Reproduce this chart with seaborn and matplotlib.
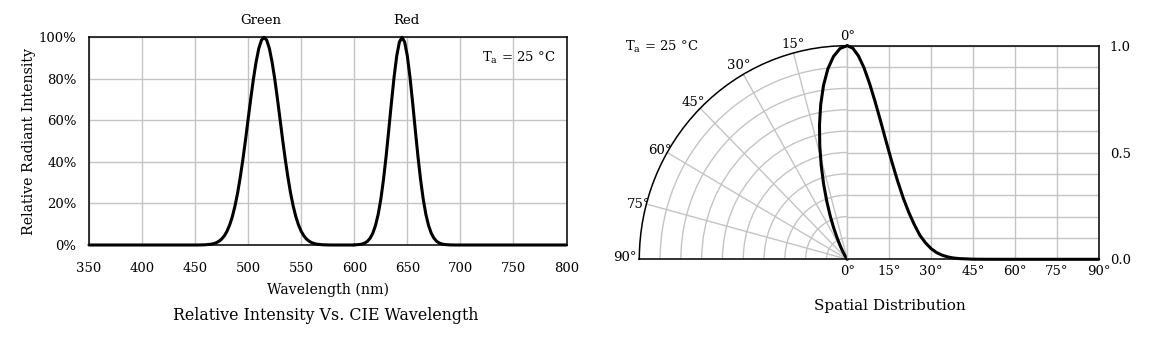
import numpy as np
import pandas as pd
import matplotlib
matplotlib.use("Agg")
import matplotlib.pyplot as plt
import seaborn as sns

# ---------------- data ----------------
green_nm = [350, 450, 455, 460, 465, 467.5, 470, 472.5, 475, 477.5, 480, 482.5, 485,
            487.5, 490, 492.5, 495, 497.5, 500, 502.5, 505, 507.5, 510, 512.5, 515,
            517.5, 520, 522.5, 525, 527.5, 530, 532.5, 535, 537.5, 540, 542.5, 545,
            547.5, 550, 552.5, 555, 557.5, 560, 562.5, 565, 570, 575, 580, 600]
green_rel = [0, 0, 0.0003, 0.0012, 0.0039, 0.0066, 0.0111, 0.0181, 0.0286, 0.0439,
             0.0657, 0.0956, 0.135, 0.186, 0.249, 0.325, 0.411, 0.506, 0.607, 0.707,
             0.801, 0.882, 0.946, 0.986, 1.000, 0.986, 0.946, 0.882, 0.801, 0.707,
             0.607, 0.506, 0.411, 0.325, 0.249, 0.186, 0.135, 0.0956, 0.0657, 0.0439,
             0.0286, 0.0181, 0.0111, 0.0066, 0.0039, 0.0012, 0.0003, 0, 0]
red_nm = [600, 605, 607.5, 610, 612.5, 615, 617.5, 620, 622.5, 625, 627.5, 630, 632.5,
          635, 637.5, 640, 642.5, 645, 647.5, 650, 652.5, 655, 657.5, 660, 662.5, 665,
          667.5, 670, 672.5, 675, 677.5, 680, 682.5, 685, 690, 695, 800]
red_rel = [0.0005, 0.0024, 0.0049, 0.0097, 0.0184, 0.0333, 0.0573, 0.0941, 0.147, 0.220,
           0.314, 0.427, 0.554, 0.685, 0.808, 0.910, 0.977, 1.000, 0.977, 0.910, 0.808,
           0.685, 0.554, 0.427, 0.314, 0.220, 0.147, 0.0941, 0.0573, 0.0333, 0.0184,
           0.0097, 0.0049, 0.0024, 0.0005, 0, 0]

pct_ticks = [0, 0.2, 0.4, 0.6, 0.8, 1.0]
pct_labels = ["0%", "20%", "40%", "60%", "80%", "100%"]
wl_ticks = [350, 400, 450, 500, 550, 600, 650, 700, 750, 800]

angle_deg = [0, 2, 4, 6, 8, 10, 12, 14, 16, 18, 20, 22, 24, 26, 28, 30, 32, 34, 36,
             38, 40, 45, 50, 60, 75, 90]
angle_rel = [1.0, 0.988, 0.952, 0.896, 0.822, 0.736, 0.643, 0.547, 0.454, 0.367, 0.288,
             0.220, 0.162, 0.112, 0.077, 0.050, 0.031, 0.019, 0.011, 0.0062, 0.0033,
             0.0006, 0.0001, 0, 0, 0]
angle_ticks = [0, 15, 30, 45, 60, 75, 90]
angle_labels = ["0°", "15°", "30°", "45°", "60°", "75°", "90°"]
rel_ticks = [0, 0.1, 0.2, 0.3, 0.4, 0.5, 0.6, 0.7, 0.8, 0.9, 1.0]
rel_labels = ["0.0", "", "", "", "", "0.5", "", "", "", "", "1.0"]

# ---------------- style ----------------
sns.set_theme(style="white")
plt.rcParams["font.family"] = ["DejaVu Serif"]
plt.rcParams["mathtext.fontset"] = "dejavuserif"
for k in ["text.color", "axes.labelcolor", "xtick.color", "ytick.color"]:
    plt.rcParams[k] = "black"
FS = 9.5
FS_LAB = 10.2
FS_TITLE = 11.4
GRID = "#c4c4c4"
LW = 2.2

W, H = 1157, 341
fig = plt.figure(figsize=(W / 100, H / 100), dpi=100)
fig.patch.set_facecolor("white")


def frac(x0, y_top, x1, y_bot):
    return [x0 / W, 1 - y_bot / H, (x1 - x0) / W, (y_bot - y_top) / H]


# ---------------- left: spectrum ----------------
spec = pd.concat([
    pd.DataFrame({"nm": green_nm, "rel": green_rel, "led": "Green"}),
    pd.DataFrame({"nm": red_nm, "rel": red_rel, "led": "Red"}),
])
ax = fig.add_axes(frac(89, 37.3, 566.5, 245))
sns.lineplot(data=spec, x="nm", y="rel", hue="led", palette=["black", "black"],
             sort=False, estimator=None, lw=LW, legend=False, ax=ax, clip_on=False)
ax.set_xlim(350, 800)
ax.set_ylim(0, 1)
ax.set_xticks(wl_ticks)
ax.set_xticklabels([str(t) for t in wl_ticks], fontsize=FS)
ax.set_yticks(pct_ticks)
ax.set_yticklabels(pct_labels, fontsize=FS)
ax.grid(True, color=GRID, lw=1.0)
ax.set_axisbelow(True)
ax.tick_params(axis="x", direction="in", length=3, width=0.8, color="#444444", pad=12)
ax.tick_params(axis="y", direction="in", length=3, width=0.8, color="#444444", pad=9)
for s in ax.spines.values():
    s.set_color("black")
    s.set_linewidth(1.1)
ax.set_xlabel("Wavelength (nm)", fontsize=FS_LAB, labelpad=5.5)
ax.set_ylabel("Relative Radiant Intensity", fontsize=FS_LAB, labelpad=2)
ax.text(0.9, 0.9, r"T$_{\mathrm{a}}$ = 25 °C", transform=ax.transAxes,
        ha="center", va="center", fontsize=FS)
fig.text(261 / W, 1 - 21 / H, "Green", ha="center", va="center", fontsize=FS)
fig.text(406 / W, 1 - 21 / H, "Red", ha="center", va="center", fontsize=FS)
fig.text(325.5 / W, 1 - 315 / H, "Relative Intensity Vs. CIE Wavelength",
         ha="center", va="center", fontsize=FS_TITLE)

# ---------------- right: polar half ----------------
pax = fig.add_axes(frac(639.3, 45.7, 847.3, 259.3), projection="polar")
pax.set_theta_zero_location("N")
pax.set_theta_direction(1)
pax.set_thetamin(0)
pax.set_thetamax(90)
pax.set_aspect("auto")
pax.set_rorigin(0)
sns.lineplot(x=np.deg2rad(angle_deg), y=angle_rel, sort=False, estimator=None,
             color="black", lw=LW, ax=pax, clip_on=False)
pax.set_ylim(0, 1)
pax.set_thetagrids(angle_ticks, labels=[""] * len(angle_ticks))
pax.set_rgrids(rel_ticks[1:-1], labels=[""] * 9)
pax.grid(True, color=GRID, lw=1.0)
pax.set_xlabel("")
pax.set_ylabel("")
pax.spines["polar"].set_color("black")
pax.spines["polar"].set_linewidth(1.1)
pax.spines["start"].set_color(GRID)
pax.spines["start"].set_linewidth(1.0)
pax.spines["end"].set_color("black")
pax.spines["end"].set_linewidth(1.1)
pax.spines["inner"].set_visible(False)
offsets = {0: (0, 9), 15: (0, 8), 30: (-5, 9), 45: (-7, 6), 60: (-7, 2),
           75: (-7.5, 0), 90: (-14, 2)}
for a, lab in zip(angle_ticks, angle_labels):
    dx, dy = offsets[a]
    pax.annotate(lab, xy=(np.deg2rad(a), 1.0), xytext=(dx, dy),
                 textcoords="offset pixels", ha="center", va="center",
                 fontsize=FS, annotation_clip=False)

# ---------------- right: cartesian half ----------------
rax = fig.add_axes(frac(847.3, 45.7, 1098.7, 259.3))
sns.lineplot(x=angle_deg, y=angle_rel, color="black", lw=LW, ax=rax, clip_on=False)
rax.set_xlim(0, 90)
rax.set_ylim(0, 1)
rax.set_xticks(angle_ticks)
rax.set_xticklabels(angle_labels, fontsize=FS)
rax.set_yticks(rel_ticks)
rax.set_yticklabels(rel_labels, fontsize=FS)
rax.yaxis.tick_right()
rax.tick_params(length=0)
rax.tick_params(axis="x", pad=4)
rax.tick_params(axis="y", pad=8)
rax.grid(True, color=GRID, lw=1.0)
rax.set_axisbelow(True)
for k in ["top", "right", "bottom"]:
    rax.spines[k].set_color("black")
    rax.spines[k].set_linewidth(1.1)
rax.spines["left"].set_visible(False)
rax.set_xlabel("")
rax.set_ylabel("")

fig.text(662 / W, 1 - 47 / H, r"T$_{\mathrm{a}}$ = 25 °C", ha="center", va="center",
         fontsize=FS)
fig.text(890 / W, 1 - 306 / H, "Spatial Distribution", ha="center", va="center",
         fontsize=11.0)

fig.savefig("out.png", dpi=100, facecolor="white")
